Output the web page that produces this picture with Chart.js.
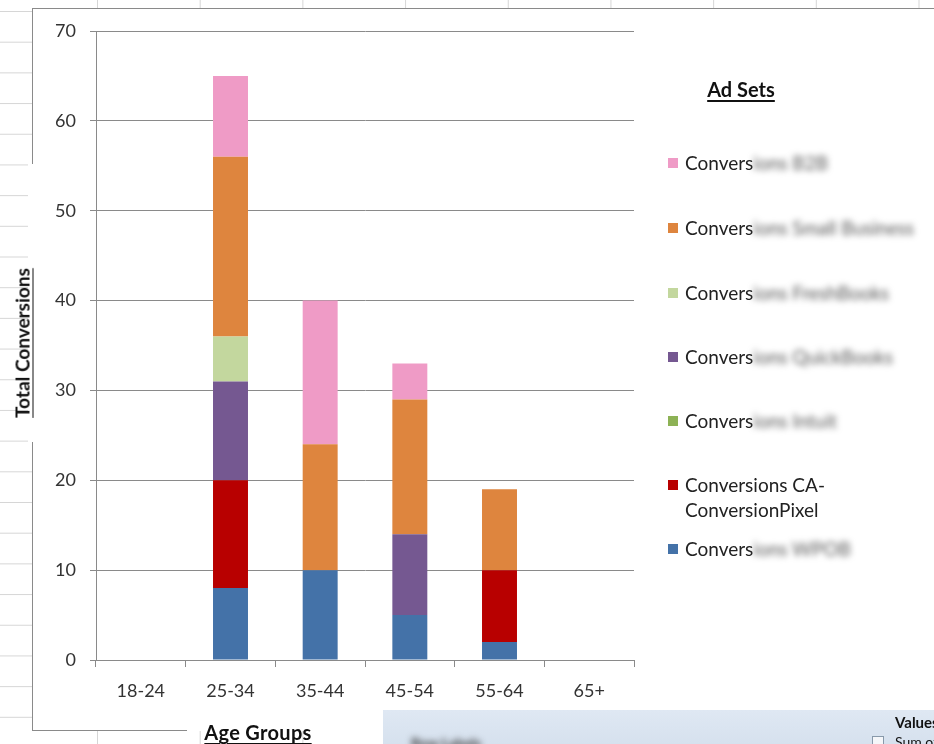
<!DOCTYPE html>
<html>
<head>
<meta charset="utf-8">
<script src="https://cdn.jsdelivr.net/npm/chart.js@4"></script>
<style>
  html, body { margin: 0; padding: 0; }
  body {
    width: 934px; height: 744px; position: relative; overflow: hidden;
    font-family: Lato, "Open Sans", sans-serif;
    background-color: #fff;
    background-image:
      linear-gradient(to right, #d6d6d6 1px, transparent 1px),
      linear-gradient(to bottom, #d6d6d6 1px, transparent 1px);
    background-size: 102.7px 30.7px;
    background-position: 97px 11px;
  }
  #frame {
    position: absolute; left: 32px; top: 8px; width: 910px; height: 722px;
    background: #fff; border-left: 1px solid #8a8a8a; border-top: 1px solid #8a8a8a;
  }
  #gapLeft { position: absolute; left: 28px; top: 164px; width: 8px; height: 278px; background: #fff; }
  #bottomLine { position: absolute; left: 32px; top: 730px; width: 155px; height: 1px; background: #8a8a8a; }
  canvas { position: absolute; left: 0; top: 0; }
  .title { position: absolute; font-weight: bold; font-size: 19px; color: #111;
    text-decoration: underline; text-underline-offset: 3px; white-space: nowrap; }
  #yTitle { left: 22px; top: 343px; transform: translate(-50%, -50%) rotate(-90deg); }
  #xTitle { left: 258px; top: 732px; font-size: 20px; letter-spacing: 0.3px; transform: translate(-50%, -50%); }
  #legendTitle { left: 741px; top: 89px; font-size: 20px; transform: translate(-50%, -50%); }
  .item { position: absolute; left: 668px; font-size: 19px; line-height: 25px; color: #222; white-space: nowrap; }
  .item i { position: absolute; left: 0; top: 8px; width: 10px; height: 10px; }
  .item span.t { margin-left: 17px; display: inline-block; }
  .blur { filter: blur(3px); color: #555; }
  #panel {
    position: absolute; left: 383px; top: 710px; width: 551px; height: 34px; overflow: hidden;
    background: linear-gradient(#dfe8f3, #d6e1ee);
  }
  #panel .val { position: absolute; left: 512px; top: 3px; font-weight: bold; font-size: 15px; color: #111; }
  #panel .sum { position: absolute; left: 512px; top: 23px; font-size: 14px; color: #111; }
  #panel .box { position: absolute; left: 489px; top: 26px; width: 10px; height: 10px; border: 1px solid #8899aa; background: #f4f6f9; }
  #panel .rows { position: absolute; left: 28px; top: 24px; font-size: 14px; font-weight: bold; color: #333; filter: blur(3px); }
</style>
</head>
<body>
<div id="frame"></div>
<div id="gapLeft"></div>
<div id="bottomLine"></div>
<canvas id="chart" width="934" height="744"></canvas>
<div class="title" id="yTitle">Total Conversions</div>
<div class="title" id="xTitle">Age Groups</div>
<div class="title" id="legendTitle">Ad Sets</div>
<div id="legend"></div>
<div id="panel">
  <div class="rows">Row Labels</div>
  <div class="val">Values</div>
  <div class="box"></div>
  <div class="sum">Sum of Conversions</div>
</div>
<script>
const ageGroups = ["18-24", "25-34", "35-44", "45-54", "55-64", "65+"]
const yTicks = [0, 10, 20, 30, 40, 50, 60, 70]

// series, bottom of the stack first
const wpob = [0, 8, 10, 5, 2, 0]
const caPixel = [0, 12, 0, 0, 8, 0]
const intuit = [0, 0, 0, 0, 0, 0]
const quickBooks = [0, 11, 0, 9, 0, 0]
const freshBooks = [0, 5, 0, 0, 0, 0]
const smallBusiness = [0, 20, 14, 15, 9, 0]
const b2b = [0, 9, 16, 4, 0, 0]

// legend names: only "Convers" is readable for most of them, the rest is blurred
const series = [
  { shown: "Convers", hidden: "ions WPOB", data: wpob, color: "#4472a8", y: 536 },
  { shown: "Conversions CA-<br>ConversionPixel", hidden: "", data: caPixel, color: "#b80000", y: 472 },
  { shown: "Convers", hidden: "ions Intuit", data: intuit, color: "#8db255", y: 408 },
  { shown: "Convers", hidden: "ions QuickBooks", data: quickBooks, color: "#755891", y: 344 },
  { shown: "Convers", hidden: "ions FreshBooks", data: freshBooks, color: "#c3d79e", y: 280 },
  { shown: "Convers", hidden: "ions Small Business", data: smallBusiness, color: "#de853e", y: 215 },
  { shown: "Convers", hidden: "ions B2B", data: b2b, color: "#ef9bc6", y: 150 },
]

const legend = document.getElementById("legend")
series.forEach((s) => {
  const el = document.createElement("div")
  el.className = "item"
  el.style.top = s.y + "px"
  el.innerHTML = `<i style="background:${s.color}"></i><span class="t">${s.shown}` +
    (s.hidden ? `<span class="blur">${s.hidden}</span>` : "") + `</span>`
  legend.appendChild(el)
})

const axisColor = "#8a8a8a"
const tickFont = { family: "Lato, 'Open Sans', sans-serif", size: 18 }

new Chart(document.getElementById("chart").getContext("2d"), {
  type: "bar",
  data: {
    labels: ageGroups,
    datasets: series.map((s) => ({
      label: s.shown.replace("<br>", ""),
      data: s.data,
      backgroundColor: s.color,
      borderWidth: 0,
      barPercentage: 0.39,
      categoryPercentage: 1,
    })),
  },
  options: {
    responsive: false,
    devicePixelRatio: 1,
    animation: false,
    layout: { padding: { left: 36, top: 31, right: 300, bottom: 34 } },
    scales: {
      x: {
        stacked: true,
        afterFit: (scale) => { scale.height = 50 },
        grid: { drawOnChartArea: false, color: axisColor, tickLength: 7 },
        border: { color: axisColor },
        ticks: { color: "#333", font: tickFont, padding: 13, maxRotation: 0 },
      },
      y: {
        stacked: true,
        min: 0,
        max: 70,
        afterFit: (scale) => { scale.width = 60 },
        afterBuildTicks: (scale) => { scale.ticks = yTicks.map((v) => ({ value: v })) },
        grid: { color: axisColor, tickLength: 6 },
        border: { color: axisColor },
        ticks: { color: "#333", font: tickFont, padding: 14 },
      },
    },
    plugins: {
      legend: { display: false },
      tooltip: { enabled: false },
    },
  },
})
</script>
</body>
</html>
